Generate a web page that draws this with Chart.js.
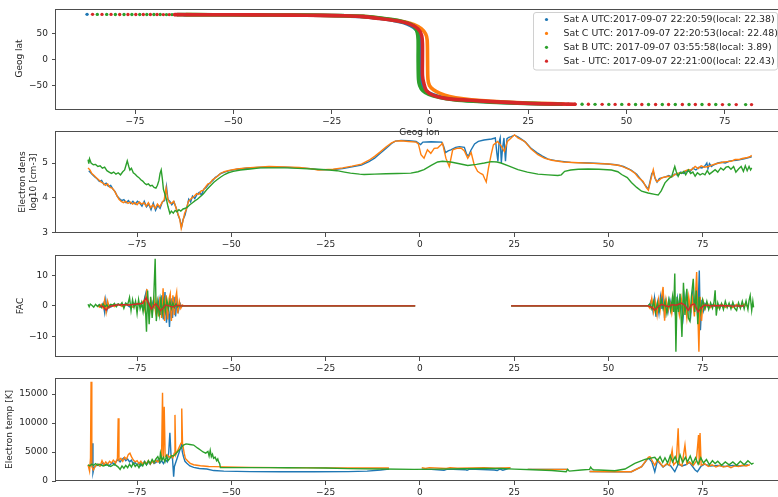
<!DOCTYPE html>
<html>
<head>
<meta charset="utf-8">
<title>Satellite pass 2017-09-07</title>
<script src="https://cdn.jsdelivr.net/npm/chart.js@4.4.1/dist/chart.umd.min.js"></script>
<style>
  html, body { margin: 0; padding: 0; background: #fff; width: 778px; height: 497px; overflow: hidden; }
  canvas { position: absolute; left: 0; top: 0; }
</style>
</head>
<body>
<canvas id="dens" width="800" height="497" style="z-index:1"></canvas>
<canvas id="fac" width="800" height="497" style="z-index:2"></canvas>
<canvas id="temp" width="800" height="497" style="z-index:3"></canvas>
<canvas id="track" width="800" height="497" style="z-index:4"></canvas>
<script>
// ---------- labels and ticks ----------
const satLabels = [
  'Sat A UTC:2017-09-07 22:20:59(local: 22.38)',
  'Sat C UTC: 2017-09-07 22:20:53(local: 22.48)',
  'Sat B UTC: 2017-09-07 03:55:58(local: 3.89)',
  'Sat - UTC: 2017-09-07 22:21:00(local: 22.43)'
];
const lonTicks = [-75, -50, -25, 0, 25, 50, 75];
const latTicks = [-50, 0, 50];
const densTicks = [3, 4, 5];
const facTicks = [-10, 0, 10];
const tempTicks = [0, 5000, 10000, 15000];

// ---------- ground tracks (lon, lat) ----------
// sparse samples near the pole
const dotsA = [[-87.2, 87.5]];
const dotsB = [[-84.6,87.4],[-82.2,87.4],[-80.0,87.3],[-77.8,87.3],[-75.8,87.2],[-73.8,87.2],[-72.0,87.2],[-70.2,87.1],[-68.6,87.1],[-67.0,87.0],[-65.6,87.0],[-64.2,86.9],
  [35.2,-85.9],[38.7,-86.0],[42.0,-86.1],[45.5,-86.2],[48.8,-86.2],[52.3,-86.3],[55.6,-86.3],[59.1,-86.4],[62.4,-86.4],[65.9,-86.5],[69.2,-86.5],[72.7,-86.5],[76.1,-86.6],[80.3,-86.6]];
const dotsM = [[-85.8,87.5],[-83.4,87.4],[-81.1,87.4],[-78.9,87.3],[-76.8,87.3],[-74.8,87.2],[-72.9,87.2],[-71.1,87.1],[-69.4,87.1],[-67.8,87.0],[-66.3,87.0],[-64.9,86.9],
  [36.9,-85.9],[40.3,-86.0],[43.8,-86.1],[47.1,-86.2],[50.6,-86.2],[53.9,-86.3],[57.4,-86.3],[60.7,-86.4],[64.2,-86.4],[67.5,-86.5],[71.0,-86.5],[74.4,-86.6],[77.9,-86.6],[81.8,-86.6]];
// dense part of each pass
const bandA = [[-62.5,86.8],[-50,86.5],[-40,86.1],[-30,85.6],[-22,84.6],[-17,83.1],[-13,79.8],[-9.5,76],[-6.8,71.5],[-5,66],[-3.6,59],[-2.8,50],[-2.5,38],[-2.5,0],[-2.4,-38],[-2.0,-50],[-1.0,-60],[0.6,-67],[3,-72.5],[6.5,-76.5],[11,-79.5],[17,-81.8],[24,-83.8],[30,-85],[33,-85.4]];
const bandC = [[-62,86.9],[-50,86.6],[-40,86.2],[-30,85.7],[-22,84.8],[-17,83.5],[-13,80.5],[-9.5,77],[-6.5,73],[-4,67.5],[-2.2,60],[-1.1,50],[-0.7,38],[-0.6,0],[-0.5,-38],[-0.1,-50],[0.9,-58],[2.6,-65],[5,-71],[8.5,-75.5],[13,-78.8],[19,-81.5],[25,-83.5],[31,-84.8],[34,-85.3]];
const bandB = [[-64.2,86.9],[-55,86.8],[-45,86.5],[-35,86.1],[-28,85.6],[-22,84.9],[-17,83.6],[-13,80.8],[-9.5,77.3],[-6.8,73.2],[-4.8,68],[-3.7,61],[-3.2,52],[-3.0,38],[-3.0,0],[-2.9,-38],[-2.6,-50],[-1.8,-60],[-0.3,-67],[2.5,-73],[6,-77],[11,-80],[17,-82.3],[24,-84.2],[30,-85.3],[33.5,-85.9]];
const bandM = [[-64.9,86.9],[-55,86.7],[-45,86.4],[-35,86.0],[-28,85.5],[-22,84.7],[-17,83.1],[-12.8,79.4],[-8.5,75],[-5.1,68.7],[-3.0,59.3],[-2.1,46.9],[-1.9,30],[-1.9,0],[-1.9,-30],[-1.6,-43.9],[-0.9,-59.5],[0.9,-68.9],[4.3,-75],[10.2,-78.2],[17,-81.4],[25.5,-84.4],[33,-85.4],[36.9,-85.9]];

// ---------- electron density, log10 [cm-3] ----------
const densA = [[-87.8,4.78],[-87.3,4.72],[-86.8,4.66],[-86.2,4.6],[-85.6,4.55],[-85.0,4.47],[-84.4,4.5],[-83.8,4.38],[-83.2,4.42],[-82.6,4.33],[-82.0,4.36],[-81.4,4.25],[-80.8,4.17],[-80.3,4.05],[-79.7,3.98],[-79.1,3.92],[-78.5,3.95],[-77.9,3.86],[-77.3,3.92],[-76.7,3.84],[-76.1,3.9],[-75.5,3.82],[-74.9,3.9],[-74.3,3.85],[-73.7,3.76],[-73.1,3.9],[-72.5,3.74],[-71.9,3.82],[-71.3,3.66],[-70.7,3.85],[-70.1,3.64],[-69.5,3.78],[-68.9,3.7],[-68.3,3.88],[-67.7,3.92],[-67.2,4.32],[-66.8,3.95],[-66.3,3.9],[-65.8,3.8],[-65.2,3.88],[-64.6,3.7],[-64.1,3.5],[-63.6,3.36],[-63.2,3.16],[-62.8,3.38],[-62.3,3.5],[-61.8,3.72],[-61.3,3.96],[-60.8,3.88],[-60.3,4.05],[-59.7,3.98],[-59.1,4.1],[-58.5,4.16],[-57.9,4.08],[-57.3,4.25],[-56.7,4.3],[-56.1,4.38],[-55.5,4.45],[-54.9,4.5],[-54.3,4.58],[-53.6,4.63],[-52.8,4.7],[-51.8,4.74],[-50.5,4.78],[-48.5,4.82],[-46,4.85],[-43,4.87],[-40,4.88],[-36,4.88],[-32,4.86],[-29,4.84],[-27,4.81],[-23,4.81],[-20.5,4.84],[-18,4.89],[-15.5,4.94],[-13.5,5.04],[-12,5.14],[-10.5,5.28],[-9,5.42],[-7.5,5.56],[-6.5,5.63],[-5,5.65],[-3,5.64],[-1,5.62],[0.2,5.53],[0.8,5.6],[3,5.61],[5.8,5.6],[6.3,5.48],[6.8,5.3],[7.5,5.35],[8.2,5.38],[9.5,5.45],[10.5,5.47],[11.8,5.45],[12.4,5.25],[12.9,5.2],[13.5,5.36],[14.5,5.55],[15.5,5.62],[17,5.66],[19,5.69],[20,5.72],[20.4,5.3],[20.7,5.05],[21.0,5.6],[21.3,5.72],[21.6,5.0],[21.9,5.4],[22.3,5.72],[22.7,5.05],[23.1,5.7],[23.6,5.74],[24.2,5.76],[25.1,5.8],[26,5.75],[27,5.68],[28,5.6],[29.5,5.42],[31,5.3],[32.5,5.2],[34,5.11],[36,5.07],[40,5.02],[45,5.0],[49,4.98],[52,4.95],[54,4.9],[56,4.8],[57.5,4.68],[58.6,4.53],[59.5,4.4],[60.2,4.3],[60.6,4.26],[61.0,4.45],[61.5,4.7],[61.9,4.75],[62.4,4.55],[62.9,4.45],[63.5,4.55],[64.3,4.58],[65.2,4.6],[66,4.64],[66.8,4.6],[67.6,4.68],[68.4,4.65],[69.2,4.74],[70,4.7],[70.8,4.78],[71.6,4.75],[72.4,4.85],[73.2,4.8],[74,4.88],[74.8,4.86],[75.6,4.92],[76.1,5.0],[76.4,4.84],[76.8,4.98],[77.3,4.9],[78,4.95],[79,5.0],[80,5.02],[81,5.0],[82,5.05],[83,5.07],[84,5.08],[85,5.1],[86,5.12],[87,5.15],[88,5.18]];
const densC = [[-88,4.86],[-87.5,4.8],[-87,4.7],[-86.4,4.64],[-85.8,4.58],[-85.2,4.52],[-84.6,4.46],[-84,4.42],[-83.4,4.36],[-82.8,4.4],[-82.2,4.3],[-81.6,4.28],[-81,4.2],[-80.4,4.08],[-79.8,3.96],[-79.2,3.9],[-78.6,3.86],[-78,3.9],[-77.4,3.84],[-76.8,3.88],[-76.2,3.82],[-75.6,3.86],[-75,3.8],[-74.4,3.88],[-73.8,3.82],[-73.2,3.86],[-72.6,3.76],[-72,3.86],[-71.4,3.72],[-70.8,3.8],[-70.2,3.7],[-69.6,3.82],[-69,3.74],[-68.4,3.86],[-67.8,3.95],[-67.3,4.28],[-66.9,3.98],[-66.4,3.86],[-65.9,3.84],[-65.3,3.9],[-64.7,3.72],[-64.2,3.55],[-63.7,3.4],[-63.3,3.12],[-62.9,3.3],[-62.4,3.55],[-61.9,3.68],[-61.4,3.9],[-60.9,3.95],[-60.4,4.0],[-59.8,4.05],[-59.2,4.12],[-58.6,4.1],[-58,4.2],[-57.4,4.22],[-56.8,4.32],[-56.2,4.4],[-55.6,4.42],[-55,4.52],[-54.4,4.56],[-53.7,4.62],[-52.9,4.7],[-51.9,4.75],[-50.6,4.79],[-48.5,4.83],[-46,4.86],[-43,4.88],[-40,4.9],[-36,4.89],[-32,4.87],[-29,4.84],[-27,4.8],[-23,4.82],[-20.5,4.86],[-18,4.91],[-15.5,4.97],[-13.5,5.08],[-12,5.19],[-10.5,5.32],[-9,5.46],[-7.5,5.58],[-6.5,5.63],[-5,5.64],[-3,5.62],[-1,5.6],[-0.4,5.55],[0.3,5.24],[1.1,5.14],[2,5.38],[2.9,5.28],[3.8,5.42],[4.7,5.43],[5.4,5.5],[6.0,5.57],[6.9,5.14],[7.8,4.9],[8.7,5.38],[9.8,5.42],[10.9,5.43],[11.8,5.35],[12.7,5.14],[13.6,5.3],[14.4,4.95],[15.3,4.76],[16.1,4.7],[16.7,4.67],[17.2,4.55],[17.6,4.46],[18.2,4.86],[18.9,5.24],[19.5,5.52],[20.6,5.62],[21.5,5.5],[22.4,5.33],[23.2,5.62],[24.2,5.72],[25.1,5.81],[26,5.72],[27.8,5.62],[29.5,5.4],[31.3,5.24],[33,5.14],[35,5.08],[38,5.03],[42,5.01],[46,4.99],[50,4.97],[53,4.93],[55.5,4.82],[57,4.71],[58,4.58],[59.2,4.47],[60,4.3],[60.6,4.22],[61.2,4.5],[61.9,4.81],[62.3,4.6],[62.8,4.47],[63.4,4.5],[64.1,4.57],[65,4.6],[65.9,4.62],[66.7,4.6],[67.5,4.66],[68.5,4.71],[69.5,4.72],[70.5,4.78],[71.2,4.81],[72,4.8],[73,4.9],[73.8,4.84],[74.6,4.92],[75.4,4.88],[76.5,4.9],[77.4,4.94],[78.5,4.98],[79.5,5.0],[80.5,5.03],[81.5,5.04],[82.5,5.05],[83.6,5.1],[84.6,5.1],[85.5,5.13],[86.5,5.15],[87.5,5.18],[88,5.22]];
const densB = [[-88,5.1],[-87.8,4.98],[-87.6,5.12],[-87.2,5.0],[-86.6,4.95],[-86,4.96],[-85.4,4.9],[-84.8,4.92],[-84.2,4.85],[-83.6,4.88],[-83,4.78],[-82.4,4.74],[-81.8,4.7],[-81.2,4.74],[-80.6,4.68],[-80,4.72],[-79.4,4.66],[-78.8,4.75],[-78.3,4.8],[-77.9,4.95],[-77.6,5.06],[-77.2,4.9],[-76.9,4.8],[-76.5,4.85],[-76,4.72],[-75.5,4.68],[-75,4.62],[-74.5,4.58],[-74,4.52],[-73.5,4.48],[-73,4.42],[-72.5,4.38],[-72,4.4],[-71.5,4.34],[-71,4.36],[-70.5,4.3],[-70,4.28],[-69.6,4.36],[-69.2,4.5],[-68.9,4.7],[-68.6,4.8],[-68.3,4.55],[-68,4.24],[-67.6,4.1],[-67.2,3.95],[-66.8,3.75],[-66.3,3.55],[-65.9,3.62],[-65.4,3.56],[-64.9,3.64],[-64.4,3.6],[-63.9,3.66],[-63.4,3.62],[-62.8,3.68],[-62.2,3.7],[-61.6,3.74],[-61,3.8],[-60.3,3.86],[-59.6,3.92],[-59,3.96],[-58.2,4.04],[-57.4,4.12],[-56.5,4.24],[-55.6,4.34],[-54.7,4.44],[-53.8,4.52],[-52.8,4.6],[-51.8,4.67],[-50.8,4.72],[-49.5,4.76],[-47.6,4.8],[-45,4.83],[-42.3,4.86],[-39,4.86],[-35,4.86],[-31,4.84],[-27,4.82],[-24,4.8],[-22,4.78],[-20,4.74],[-18.4,4.71],[-16,4.68],[-14.8,4.67],[-12,4.68],[-9,4.69],[-6,4.7],[-2.4,4.71],[-0.5,4.75],[1.1,4.81],[3,4.93],[4.7,5.03],[6,5.05],[8.2,5.03],[10.5,4.98],[12.7,4.93],[15,4.96],[17.1,5.0],[18.9,5.04],[20.5,5.03],[21.5,5.0],[23.5,4.92],[26,4.81],[28.5,4.74],[31.3,4.68],[34,4.66],[36.6,4.64],[37.5,4.66],[38.4,4.76],[40,4.8],[42,4.82],[44.6,4.83],[47.5,4.82],[50.8,4.8],[52.5,4.75],[53.5,4.67],[55,4.58],[56.1,4.44],[57.5,4.3],[58.8,4.19],[60.5,4.14],[62.3,4.1],[63.2,4.08],[64,4.2],[65,4.43],[66,4.55],[66.8,4.62],[67.3,4.8],[67.6,4.9],[68,4.75],[68.5,4.62],[69,4.72],[69.4,4.7],[70,4.76],[70.5,4.66],[71.2,4.8],[71.8,4.7],[72.4,4.74],[73,4.62],[73.6,4.72],[74.3,4.66],[75,4.7],[75.6,4.66],[76.2,4.78],[76.8,4.68],[77.5,4.74],[78.3,4.81],[79,4.74],[79.8,4.86],[80.5,4.8],[81.2,4.88],[81.8,4.9],[82.5,4.82],[83.2,4.9],[83.8,4.74],[84.5,4.83],[85.2,4.9],[85.8,4.76],[86.3,4.92],[86.8,4.78],[87.3,4.9],[87.7,4.8],[88,4.86]];

// ---------- field-aligned currents (null = no data) ----------
const facA = [[-85.5,0],[-85,0.3],[-84.5,-0.5],[-84,0.8],[-83.6,-2.2],[-83.3,1.8],[-83,-1.5],[-82.6,0.6],[-82,-0.4],[-81,0.3],[-80,0.5],[-79,0.2],[-78,0.6],[-77,-0.3],[-76,0.8],[-75,0.4],[-74,0.9],[-73.5,-0.8],[-73,2.5],[-72.6,4.5],[-72.3,1.0],[-72,-2.0],[-71.6,0.5],[-71.2,-1.0],[-70.8,1.2],[-70.4,-0.5],[-70,0.8],[-69.6,-1.5],[-69.2,2.0],[-68.8,-3.0],[-68.4,3.5],[-68,-4.5],[-67.6,4.5],[-67.2,-5.5],[-66.8,1.0],[-66.4,-6.9],[-66,2.5],[-65.6,-4.0],[-65.2,3.0],[-64.8,-3.5],[-64.4,2.0],[-64,-1.5],[-63.6,0.8],[-63.2,-0.3],[-62.8,0],[-1.25,0],[0,null],[24.2,0],[60.5,0],[61,0.5],[61.4,1.9],[61.8,-1.5],[62.2,2.5],[62.6,-3.6],[63,1.0],[63.4,-2.5],[63.8,3.0],[64.2,-1.0],[64.5,5.0],[64.9,-4.0],[65.3,1.5],[65.8,-2.0],[66.3,2.0],[66.8,-1.0],[67.3,1.5],[67.8,-3.0],[68.3,2.5],[68.8,-2.0],[69.3,1.0],[69.8,-4.0],[70.3,3.0],[70.8,-2.5],[71.3,1.5],[71.8,-3.5],[72.3,4.0],[72.8,-1.0],[73.3,6.0],[73.7,-4.0],[74.1,11.6],[74.4,-8.0],[74.8,2.0],[75.2,-1.5],[75.6,0.8],[76.5,-0.5],[77.5,0.4],[78.5,-0.3],[79.5,0.2],[81,-0.2],[83,0.3],[85,-0.2],[86,0.1]];
const facC = [[-85.5,0.2],[-85,-0.4],[-84.5,0.5],[-84,-0.8],[-83.6,2.0],[-83.2,-2.0],[-82.8,1.5],[-82.4,-0.6],[-81.8,0.4],[-81,-0.3],[-80,0.6],[-79,-0.2],[-78,0.5],[-77,0.2],[-76,-0.5],[-75,0.8],[-74,0.3],[-73.4,1.5],[-72.9,-1.5],[-72.4,5.5],[-72.1,0.5],[-71.7,-2.5],[-71.3,1.5],[-70.9,-1.5],[-70.5,2.0],[-70.1,-2.0],[-69.7,1.5],[-69.3,-3.5],[-68.9,3.0],[-68.5,-4.0],[-68.1,5.8],[-67.7,-5.0],[-67.3,3.5],[-66.9,-4.5],[-66.5,2.5],[-66.2,4.0],[-65.9,-5.0],[-65.5,3.5],[-65.1,-3.0],[-64.8,2.5],[-64.5,4.5],[-64.2,-2.5],[-63.8,1.5],[-63.4,-0.8],[-63,0.3],[-62.6,0],[-1.25,0],[0,null],[24.2,0],[60.5,0],[61,-0.8],[61.5,2.5],[62,-2.0],[62.4,1.5],[62.9,-3.0],[63.3,2.0],[63.7,-1.5],[64.1,3.0],[64.5,6.2],[64.9,-4.9],[65.3,2.0],[65.8,-1.5],[66.3,1.0],[66.8,-2.5],[67.3,2.0],[67.8,-1.5],[68.3,1.5],[68.8,-3.0],[69.3,2.5],[69.8,-2.0],[70.3,1.5],[70.8,-4.0],[71.3,3.0],[71.8,-2.0],[72.3,2.5],[72.8,-3.5],[73.4,11.1],[73.7,-2.0],[74.0,-15.1],[74.3,3.0],[74.7,-5.0],[75.1,1.5],[75.6,-1.0],[76.3,0.8],[77,-0.6],[78,0.5],[79,-0.8],[80,0.6],[81,-0.5],[82,0.4],[83,-0.6],[84,0.5],[85,-0.4],[86,0.6],[87,-0.3]];
const facB = [[-88,0.5],[-87.7,-0.3],[-87.4,0.6],[-87,0.2],[-86.5,-0.4],[-86,0.5],[-85.5,-0.2],[-85,0.4],[-84.5,-0.5],[-84,0.6],[-83.5,-0.3],[-83,0.3],[-82.5,-0.6],[-82,0.5],[-81.5,0.2],[-81,0.8],[-80.5,-0.3],[-80,0.6],[-79.5,0.2],[-79,1.0],[-78.5,-0.8],[-78,0.9],[-77.5,0.3],[-77,2.8],[-76.6,-1.5],[-76.2,2.0],[-75.8,-0.5],[-75.4,1.5],[-75,-2.5],[-74.6,2.0],[-74.2,-1.0],[-73.8,1.0],[-73.4,-2.0],[-73,1.5],[-72.7,-3.0],[-72.5,-8.5],[-72.2,5.0],[-71.8,-6.0],[-71.4,3.0],[-71,-4.0],[-70.6,2.0],[-70.2,15.5],[-69.9,-5.0],[-69.5,1.0],[-69.1,-3.0],[-68.7,2.0],[-68.3,-2.5],[-67.9,1.5],[-67.5,-1.8],[-67.1,2.0],[-66.7,-1.0],[-66.3,1.5],[-65.9,-0.8],[-65.5,1.0],[-65.1,-0.5],[-64.7,0.6],[-64.3,-0.3],[-63.9,0.2],[-63.5,0],[-1.25,0],[0,null],[24.2,0],[60.5,0],[61,0.6],[61.5,-1.0],[62,1.5],[62.5,-2.0],[63,1.0],[63.5,-1.5],[64,2.0],[64.5,-1.0],[65,1.5],[65.5,-2.5],[66,2.0],[66.5,-1.5],[67,3.0],[67.3,-2.0],[67.6,10.6],[67.9,-15.1],[68.2,3.0],[68.6,-2.0],[69,4.0],[69.5,-10.2],[69.9,7.6],[70.3,-3.0],[70.8,5.6],[71.2,-4.0],[71.6,-5.0],[72,3.0],[72.5,8.9],[72.9,-2.0],[73.3,5.0],[73.7,-6.0],[74.1,3.0],[74.5,-2.0],[75,2.0],[75.6,-1.0],[76.1,1.5],[76.6,-1.2],[77.1,1.0],[77.6,-0.8],[78,1.2],[78.3,5.1],[78.6,-3.2],[79,1.0],[79.5,-1.0],[80,0.8],[80.5,-1.2],[81,1.5],[81.5,-0.6],[82,0.9],[82.5,-1.0],[83,1.2],[83.5,-0.8],[84,-1.5],[84.5,1.0],[85,-0.8],[85.5,1.5],[86,-1.0],[86.5,1.6],[87,-1.2],[87.3,1.8],[87.6,3.4],[88,-1.5],[88.3,1.5],[88.5,-0.5]];
const facM = [[-85,0],[-84,-0.2],[-83.2,-1.4],[-82.5,-0.3],[-81,0.2],[-79,0.4],[-77,0.3],[-75,0.6],[-73.5,0.8],[-72.6,2.7],[-71.8,0.5],[-71.2,-1.1],[-70.5,0.2],[-70,0.6],[-69.3,-0.5],[-68.8,-1.6],[-68,-0.6],[-67.5,0.3],[-66.5,0],[-65.5,-0.4],[-64.5,0.2],[-63.6,0],[-1.25,0],[0,null],[24.2,0],[60.5,0],[61.5,-0.5],[62.3,-1.4],[63.2,-0.3],[64.1,0.5],[65,0.1],[66,-0.3],[66.8,0.4],[68,0.2],[69.4,0.9],[70.3,0.1],[71.2,-1.4],[72,0.3],[72.8,0.6],[73.8,-2.0],[74.7,-0.5],[75.6,0.3],[77,0],[80,0.1],[83,-0.1],[86,0]];

// ---------- electron temperature [K] (null = no data) ----------
const tempA = [[-88,2700],[-87.6,2500],[-87.2,3000],[-86.9,6500],[-86.7,1400],[-86.4,2300],[-86,2600],[-85.5,2900],[-85,2600],[-84.5,2800],[-84,3100],[-83.5,2700],[-83,3000],[-82.5,2600],[-82,2900],[-81.5,3200],[-81,2800],[-80.5,3400],[-80,3700],[-79.5,3300],[-79,3700],[-78.5,4000],[-78,3500],[-77.5,3800],[-77,3300],[-76.5,3600],[-76,2900],[-75.5,3200],[-75,2700],[-74.5,3100],[-74,2600],[-73.5,3000],[-73,3400],[-72.5,2800],[-72,3300],[-71.5,2900],[-71,3500],[-70.5,3000],[-70,3200],[-69.5,3600],[-69,3100],[-68.5,3500],[-68,3000],[-67.5,3700],[-67,3300],[-66.6,5000],[-66.3,8300],[-66,4500],[-65.6,3800],[-65.3,750],[-65.1,2500],[-63.2,6200],[-63,5000],[-62.7,4200],[-62.3,3400],[-61.8,3050],[-61,2600],[-60,2360],[-58.5,2150],[-56.5,2070],[-54.7,1800],[-52,1700],[-45,1620],[-37,1600],[-28,1600],[-19,1620],[-14,1700],[-10.4,1900],[-8.2,2070],[-4,null],[0.5,2050],[3,2000],[6.4,1850],[7.3,2050],[12,1950],[12.5,1850],[13.2,2050],[19.7,1900],[20.5,1800],[21.2,2050],[22,1850],[23,2050],[24,2300],[26,null],[28.6,2000],[39.3,2000],[42,null],[45,1650],[51.7,1600],[56.1,1600],[58.8,2470],[60.6,4000],[61.5,3300],[62.3,1600],[63,3500],[64.5,2400],[65.5,2900],[66.5,2600],[67.6,1600],[68.5,2900],[69.5,2600],[70.5,2800],[71.5,3200],[73,1900],[73.6,1600],[74.5,2500],[75.5,2900],[77,2600],[79,2700],[81,2500],[83,2700],[85,2600],[87,2800]];
const tempC = [[-88,2800],[-87.6,1700],[-87.35,4000],[-87.2,17100],[-87.0,2500],[-86.6,1900],[-86.2,2400],[-85.8,2700],[-85.3,2900],[-84.8,2600],[-84.3,3500],[-83.8,2800],[-83.3,3300],[-82.8,2900],[-82.3,3400],[-81.8,3100],[-81.3,3600],[-80.7,3100],[-80.2,3900],[-80.0,10800],[-79.8,3600],[-79.3,3900],[-78.8,3400],[-78.3,4100],[-77.8,3800],[-77.3,4600],[-76.9,4800],[-76.5,4200],[-76,3600],[-75.5,3300],[-75,3500],[-74.5,3000],[-74,3400],[-73.5,2900],[-73,3300],[-72.5,3000],[-72,3500],[-71.5,2900],[-71,3400],[-70.5,3100],[-70,3600],[-69.5,3300],[-69,3700],[-68.5,4300],[-68.25,15200],[-68.05,4000],[-67.8,12800],[-67.55,4200],[-67,4500],[-66.5,4100],[-66,4400],[-65.5,4000],[-65.15,4800],[-64.95,11400],[-64.75,4500],[-63.35,6500],[-63.15,12500],[-62.95,6500],[-62.5,4800],[-62.2,3900],[-61.5,3400],[-60.9,3050],[-60,2800],[-58.2,2640],[-56,2500],[-54.7,2470],[-45,2350],[-37,2300],[-25,2270],[-15,2250],[-8.2,2240],[-4,null],[0.5,2300],[1.5,2150],[2.5,2300],[7,2150],[8,2300],[10,2200],[14,2250],[17,2300],[20,2200],[24,2300],[26,null],[28.6,2000],[39.3,2000],[42,null],[45,1650],[51.7,1600],[56.1,1600],[58.8,2470],[60.6,4100],[61,4190],[62.3,2710],[63,3700],[64.5,2470],[65.5,3000],[66.2,2710],[66.9,5340],[67.3,2800],[68,3300],[68.5,9090],[68.8,3000],[69.5,2600],[70.3,6200],[70.8,2900],[71.5,3300],[72.5,2700],[73.3,3400],[73.9,7930],[74.1,2800],[74.3,8270],[74.6,2700],[75.5,3000],[76.5,2500],[77.5,2800],[78.5,2400],[79.5,2700],[80.5,2400],[81.5,2600],[82.5,2300],[83.5,2600],[84.5,2500],[85.5,2700],[86.5,2600],[87.5,2800]];
const tempB = [[-88,2760],[-87.5,2600],[-87,2900],[-86.5,2700],[-86,3000],[-85.5,2700],[-85,2900],[-84,2600],[-83,2800],[-82,2500],[-81,2900],[-80,2400],[-79.5,2000],[-79,2600],[-78.5,2200],[-78,2700],[-77.5,2300],[-77,2900],[-76.5,2400],[-76,3100],[-75.5,2500],[-75,2900],[-74.5,2300],[-74,3000],[-73.5,2600],[-73,3300],[-72.5,2800],[-72,3500],[-71.5,3000],[-71,3700],[-70.5,3200],[-70,3800],[-69.5,4200],[-69,3400],[-68.8,4800],[-68.4,3600],[-68,4100],[-67.6,3300],[-67.2,4300],[-66.8,3500],[-66.3,3900],[-65.8,4400],[-65.3,4300],[-63.2,5800],[-62.7,6200],[-62,6400],[-61,6300],[-60,6200],[-59,5700],[-58.2,5340],[-57.5,5000],[-56.8,4800],[-56.2,5100],[-55.9,4300],[-55.6,5300],[-55.3,4200],[-55,4600],[-54.7,3900],[-54.3,4100],[-53.9,3500],[-53.6,3800],[-53.4,3330],[-53.1,3000],[-52.9,2300],[-50,2300],[-45,2300],[-40,2300],[-35,2280],[-30,2260],[-25,2230],[-19,2130],[-10,2080],[-1.5,2000],[5,2050],[12,2100],[18,2150],[21.5,2150],[25,2040],[30,1950],[35,1800],[38.8,1610],[39.2,2000],[39.6,1700],[42.8,1900],[45,2000],[45.3,2400],[45.6,2100],[46,1950],[51.7,1780],[54.4,2070],[57,3050],[59.7,3740],[62.3,4100],[63,3500],[63.7,4200],[64.4,3200],[65,4000],[65.7,3100],[66.4,4400],[67,3300],[67.7,4200],[68.4,3000],[69,4500],[69.7,3200],[70.4,4100],[71,3300],[71.7,4300],[72.4,3000],[73.1,4000],[73.8,2900],[74.5,4000],[75.2,3100],[76,3700],[76.8,2800],[77.6,3500],[78.3,3000],[79,3400],[80,2700],[81,3300],[82,2800],[83,3300],[84,2700],[85,3400],[86,2800],[87,3500],[88,2900],[88.5,3100]];

// ---------- drawing ----------
const COLOR = { A: '#1f77b4', C: '#ff7f0e', B: '#2ca02c', M: '#d62728' };
const FONT = 'DejaVu Sans';
const INK = '#262626';
const CANVAS_W = 800, CANVAS_H = 497, XAXIS_H = 20;

const pts = pairs => pairs.map(p => ({ x: p[0], y: p[1] }));
const fmt = v => (v < 0 ? '\u2212' + Math.abs(v) : String(v));

// white axes face, frame, axis titles and the legend
const decor = {
  id: 'decor',
  beforeDraw(chart) {
    const { ctx, chartArea: a } = chart;
    ctx.save();
    ctx.fillStyle = '#ffffff';
    ctx.fillRect(a.left, a.top, a.right - a.left, a.bottom - a.top);
    ctx.restore();
  },
  afterDraw(chart, args, o) {
    const { ctx, chartArea: a } = chart;
    ctx.save();
    ctx.strokeStyle = '#4d4d4d';
    ctx.lineWidth = 1;
    ctx.strokeRect(Math.round(a.left) - 0.5, Math.round(a.top) + 0.5,
                   Math.round(a.right - a.left) + 1, Math.round(a.bottom - a.top) - 1);
    ctx.fillStyle = INK;
    ctx.font = '9px "' + FONT + '"';
    ctx.textAlign = 'center';
    ctx.textBaseline = 'middle';
    (o.titles || []).forEach(t => {
      ctx.save();
      ctx.translate(t.x, t.y);
      if (t.rotate) ctx.rotate(-Math.PI / 2);
      ctx.fillText(t.text, 0, 0);
      ctx.restore();
    });
    if (o.legend) {
      const L = o.legend;
      ctx.beginPath();
      ctx.roundRect(L.x, L.y, L.w, L.h, 2.5);
      ctx.fillStyle = 'rgba(255,255,255,0.85)';
      ctx.fill();
      ctx.strokeStyle = '#d0d0d0';
      ctx.stroke();
      ctx.font = '9.4px "' + FONT + '"';
      ctx.textAlign = 'left';
      const cols = [COLOR.A, COLOR.C, COLOR.B, COLOR.M];
      satLabels.forEach((text, i) => {
        const y = L.y + 7 + i * 13.9;
        ctx.beginPath();
        ctx.arc(L.x + 13, y, 1.6, 0, Math.PI * 2);
        ctx.fillStyle = cols[i];
        ctx.fill();
        ctx.fillStyle = INK;
        ctx.fillText(text, L.x + 30, y + 0.5);
      });
    }
    ctx.restore();
  }
};

function scales(xRange, yRange, xTicks, yTicks) {
  const grid = { display: true, drawOnChartArea: false, drawTicks: true, tickLength: 4, color: '#4d4d4d', lineWidth: 1 };
  const ticks = pad => ({ font: { family: FONT, size: 9 }, color: INK, padding: pad, maxRotation: 0, autoSkip: false, callback: fmt });
  return {
    x: {
      type: 'linear', position: 'bottom', min: xRange[0], max: xRange[1],
      grid, border: { display: false }, ticks: ticks(2),
      afterBuildTicks: s => { s.ticks = xTicks.map(v => ({ value: v })); },
      afterFit: s => { s.height = XAXIS_H; }
    },
    y: {
      type: 'linear', position: 'left', min: yRange[0], max: yRange[1],
      grid, border: { display: false }, ticks: ticks(4),
      afterBuildTicks: s => { s.ticks = yTicks.map(v => ({ value: v })); },
      afterFit: s => { s.width = 56; }
    }
  };
}

function panel(id, datasets, box, xRange, yRange, yTicks, decorOpts) {
  return new Chart(document.getElementById(id), {
    type: 'scatter',
    data: { datasets },
    options: {
      responsive: false, animation: false, devicePixelRatio: 1, events: [],
      layout: { padding: { left: 0, right: CANVAS_W - box.right, top: box.top, bottom: CANVAS_H - box.bottom - XAXIS_H } },
      scales: scales(xRange, yRange, lonTicks, yTicks),
      plugins: { legend: { display: false }, tooltip: { enabled: false }, decor: decorOpts }
    },
    plugins: [decor]
  });
}

const trace = (pairs, color, order) => ({
  data: pts(pairs), showLine: true, spanGaps: false, borderColor: color, backgroundColor: color,
  borderWidth: 1.4, pointRadius: 0, tension: 0, order
});
const dots = (pairs, color, order) => ({
  data: pts(pairs), showLine: false, pointRadius: 1.7, pointBorderWidth: 0,
  pointBackgroundColor: color, backgroundColor: color, order
});
const band = (pairs, color, order) => ({
  data: pts(pairs), showLine: true, borderColor: color, borderWidth: 3.6, pointRadius: 0,
  tension: 0.3, borderCapStyle: 'round', borderJoinStyle: 'round', order
});

const LON2 = [-96.5, 96.3];

panel('dens', [
  trace(densA, COLOR.A, 3), trace(densC, COLOR.C, 2), trace(densB, COLOR.B, 1)
], { top: 131, bottom: 233, right: 783 }, LON2, [2.99, 5.92], densTicks, {
  titles: [
    { text: 'Electron dens', x: 22.7, y: 182, rotate: true },
    { text: 'log10 [cm-3]', x: 33.3, y: 182, rotate: true },
    { text: 'Geog lon', x: 419.5, y: 260 }
  ]
});

panel('fac', [
  trace(facA, COLOR.A, 3), trace(facC, COLOR.C, 2), trace(facB, COLOR.B, 1), trace(facM, COLOR.M, 0)
], { top: 255, bottom: 357, right: 783 }, LON2, [-16.8, 16.7], facTicks, {
  titles: [
    { text: 'FAC', x: 20.7, y: 306, rotate: true },
    { text: 'Geog lon', x: 419.5, y: 384 }
  ]
});

panel('temp', [
  trace(tempA, COLOR.A, 3), trace(tempC, COLOR.C, 2), trace(tempB, COLOR.B, 1)
], { top: 378, bottom: 481, right: 783 }, LON2, [0, 17760], tempTicks, {
  titles: [{ text: 'Electron temp [K]', x: 10, y: 429.5, rotate: true }]
});

panel('track', [
  dots(dotsA, COLOR.A, 3), band(bandA, COLOR.A, 3),
  band(bandC, COLOR.C, 2),
  dots(dotsB, COLOR.B, 1), band(bandB, COLOR.B, 1),
  dots(dotsM, COLOR.M, 0), band(bandM, COLOR.M, 0)
], { top: 7, bottom: 110, right: 783 }, [-95.1, 89.8], [-97, 97], latTicks, {
  titles: [
    { text: 'Geog lat', x: 20, y: 58.5, rotate: true },
    { text: 'Geog lon', x: 419.5, y: 133 }
  ],
  legend: { x: 533.5, y: 12.5, w: 244, h: 57.5 }
});
</script>
</body>
</html>
